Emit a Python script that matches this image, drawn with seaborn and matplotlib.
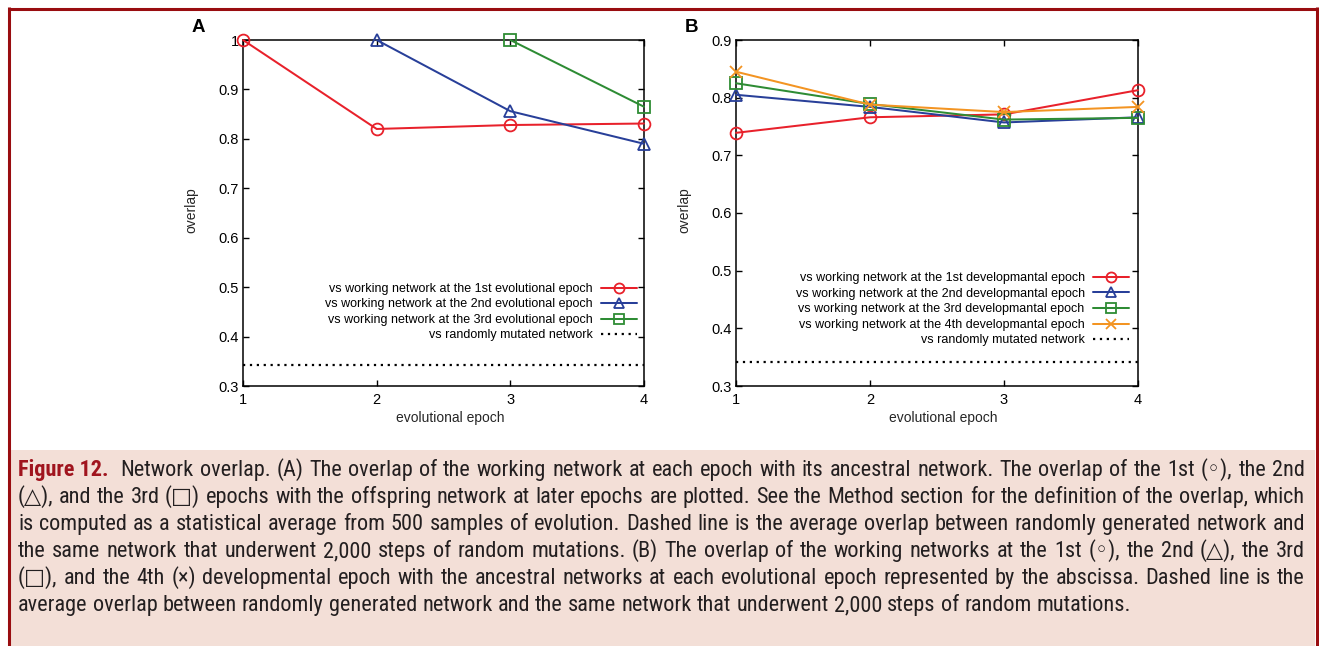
import matplotlib
matplotlib.use("Agg")
import matplotlib.pyplot as plt
import seaborn as sns
from matplotlib import font_manager as fm
from matplotlib.font_manager import FontProperties
from matplotlib.lines import Line2D
from matplotlib.patches import Rectangle

# ---------------------------------------------------------------- data
epochs = [1, 2, 3, 4]

# Panel A: overlap with the working network of an earlier evolutional epoch
a_first_x = [1, 2, 3, 4]
a_first = [1.0, 0.820, 0.828, 0.831]
a_second_x = [2, 3, 4]
a_second = [1.0, 0.856, 0.790]
a_third_x = [3, 4]
a_third = [1.0, 0.865]
a_random = 0.342

# Panel B: overlap of developmental-epoch networks with ancestral networks
b_first = [0.739, 0.766, 0.771, 0.813]
b_second = [0.805, 0.784, 0.757, 0.766]
b_third = [0.825, 0.789, 0.762, 0.765]
b_fourth = [0.845, 0.788, 0.775, 0.784]
b_random = 0.342

a_yticks = [0.3, 0.4, 0.5, 0.6, 0.7, 0.8, 0.9, 1.0]
a_yticklabels = ["0.3", "0.4", "0.5", "0.6", "0.7", "0.8", "0.9", "1"]
b_yticks = [0.3, 0.4, 0.5, 0.6, 0.7, 0.8, 0.9]
b_yticklabels = ["0.3", "0.4", "0.5", "0.6", "0.7", "0.8", "0.9"]
xticklabels = ["1", "2", "3", "4"]

a_labels = [
    "vs working network at the 1st evolutional epoch",
    "vs working network at the 2nd evolutional epoch",
    "vs working network at the 3rd evolutional epoch",
    "vs randomly mutated network",
]
b_labels = [
    "vs working network at the 1st developmantal epoch",
    "vs working network at the 2nd developmantal epoch",
    "vs working network at the 3rd developmantal epoch",
    "vs working network at the 4th developmantal epoch",
    "vs randomly mutated network",
]
x_label = "evolutional epoch"
y_label = "overlap"

cap_head = "Figure 12."
cap_lines = [
    "Network overlap. (A) The overlap of the working network at each epoch with its ancestral network. The overlap of the 1st (\u25e6), the 2nd",
    "(\u25b3), and the 3rd (\u25a1) epochs with the offspring network at later epochs are plotted. See the Method section for the definition of the overlap, which",
    "is computed as a statistical average from 500 samples of evolution. Dashed line is the average overlap between randomly generated network and",
    "the same network that underwent 2,000 steps of random mutations. (B) The overlap of the working networks at the 1st (\u25e6), the 2nd (\u25b3), the 3rd",
    "(\u25a1), and the 4th (\u00d7) developmental epoch with the ancestral networks at each evolutional epoch represented by the abscissa. Dashed line is the",
    "average overlap between randomly generated network and the same network that underwent 2,000 steps of random mutations.",
]

# ---------------------------------------------------------------- style
RED, BLUE, GREEN, ORANGE = "#e8212b", "#283f99", "#2e8c34", "#f39422"
FRAME = "#990d10"
PINK = "#f3dfd7"
HEAD = "#a0141e"
INK = "#231f20"

sns.set_style("ticks")
plt.rcParams["font.family"] = ["Liberation Sans", "DejaVu Sans"]
plt.rcParams["axes.linewidth"] = 1.1
plt.rcParams["text.color"] = "black"


def installed(name):
    try:
        fm.findfont(FontProperties(family=name), fallback_to_default=False)
        return True
    except ValueError:
        return False


cap_family = next(
    (f for f in ["Liberation Sans Narrow", "Roboto Condensed", "Liberation Sans"] if installed(f)),
    "DejaVu Sans",
)

W, H = 1319, 646
fig = plt.figure(figsize=(W / 100, H / 100), dpi=100)
fig.patch.set_facecolor("white")


def fx(px):
    return px / W


def fy(py):
    return 1 - py / H


def axes_rect(left, top, right, bottom):
    return [fx(left), fy(bottom), fx(right) - fx(left), fy(top) - fy(bottom)]


# outer frame and caption panel
fig.add_artist(Rectangle((fx(10), 0), fx(1315) - fx(10), fy(450), transform=fig.transFigure,
                         facecolor=PINK, edgecolor="none", zorder=0))
for xs, ys in [([8, 1318], [8.5, 8.5]), ([9, 9], [7, 660]), ([1316.5, 1316.5], [7, 660])]:
    fig.add_artist(Line2D([fx(v) for v in xs], [fy(v) for v in ys], transform=fig.transFigure,
                          color=FRAME, lw=2.2, solid_capstyle="butt", zorder=1))

axA = fig.add_axes(axes_rect(243, 40, 644, 386))
axB = fig.add_axes(axes_rect(736, 40, 1138, 386))

LW, MEW = 1.45, 1.3


def series(ax, xs, ys, color, marker, label, ms=8.5):
    sns.lineplot(x=xs, y=ys, ax=ax, color=color, marker=marker, markersize=ms,
                 markerfacecolor="none", markeredgecolor=color, markeredgewidth=MEW,
                 linewidth=LW, label=label, errorbar=None, clip_on=False, zorder=3)


def random_line(ax, y, label):
    ax.axhline(y, color="black", lw=1.6, linestyle=(0, (1, 2.1)), dash_capstyle="butt",
               label=label, zorder=2)


series(axA, a_first_x, a_first, RED, "o", a_labels[0])
series(axA, a_second_x, a_second, BLUE, "^", a_labels[1], ms=9)
series(axA, a_third_x, a_third, GREEN, "s", a_labels[2], ms=8)
random_line(axA, a_random, a_labels[3])

series(axB, epochs, b_first, RED, "o", b_labels[0])
series(axB, epochs, b_second, BLUE, "^", b_labels[1], ms=9)
series(axB, epochs, b_third, GREEN, "s", b_labels[2], ms=8)
series(axB, epochs, b_fourth, ORANGE, "x", b_labels[3], ms=9)
random_line(axB, b_random, b_labels[4])

for ax, yt, ytl, ymax in [(axA, a_yticks, a_yticklabels, 1.0), (axB, b_yticks, b_yticklabels, 0.9)]:
    ax.set_xlim(1, 4)
    ax.set_ylim(0.3, ymax)
    ax.set_xticks(epochs)
    ax.set_xticklabels(xticklabels)
    ax.set_yticks(yt)
    ax.set_yticklabels(ytl)
    ax.tick_params(direction="in", length=4, width=1.0, top=True, right=True,
                   labelsize=10.5, colors="black")
    ax.tick_params(axis="x", pad=5)
    ax.tick_params(axis="y", pad=3)
    for sp in ax.spines.values():
        sp.set_visible(True)
        sp.set_color("black")
        sp.set_linewidth(1.1)
    ax.set_xlabel(x_label, fontsize=10, va="center")
    ax.set_ylabel(y_label, fontsize=10, va="center")
    ax.xaxis.set_label_coords(0.516, -0.093)
    ax.yaxis.set_label_coords(-0.128, 0.509)
    ax.set_facecolor("white")


def place_legend(ax, right_px, top_px, spacing):
    handles, labels = ax.get_legend_handles_labels()
    leg = ax.legend(handles, labels, loc="upper right", bbox_to_anchor=(fx(right_px), fy(top_px)),
                    bbox_transform=fig.transFigure, markerfirst=False, frameon=False,
                    borderpad=0, borderaxespad=0, fontsize=9, handlelength=2.9,
                    handletextpad=0.65, labelspacing=spacing, numpoints=1)
    for h in leg.legend_handles:
        if h.get_marker() not in (None, "None", ""):
            h.set_markersize(h.get_markersize() * 0.85)


place_legend(axA, 637, 283, 0.28)
place_legend(axB, 1129, 272, 0.29)

fig.text(fx(198), fy(28), "A", fontsize=13.5, fontweight="bold", ha="center", va="center")
fig.text(fx(691), fy(28), "B", fontsize=13.5, fontweight="bold", ha="center", va="center")

# ---------------------------------------------------------------- justified caption
renderer = fig.canvas.get_renderer()
CAP_LEFT, CAP_RIGHT = 18, 1305
CAP_BASE, CAP_STEP = 476, 27
avail = CAP_RIGHT - CAP_LEFT


def text_width(s, fp):
    t = fig.text(0, 0, s, fontproperties=fp)
    w = t.get_window_extent(renderer).width
    t.remove()
    return w


def make_fonts(size):
    body = FontProperties(family=[cap_family, "DejaVu Sans"], size=size)
    head = FontProperties(family=[cap_family, "DejaVu Sans"], size=size, weight="bold")
    return body, head


def tokens_for(i, body, head):
    toks = []
    if i == 0:
        toks.append((cap_head, head, HEAD, 2.0))
    for w in cap_lines[i].split(" "):
        toks.append((w, body, INK, 1.0))
    return toks


def natural_width(toks, space):
    words = sum(text_width(t[0], t[1]) for t in toks)
    gaps = sum(t[3] for t in toks[:-1])
    return words + gaps * space


size = 15.0
body, head = make_fonts(size)
space = text_width("a a", body) - text_width("aa", body)
widest = max(natural_width(tokens_for(i, body, head), space) for i in range(len(cap_lines)))
size = min(17.0, size * avail * 0.99 / widest)
body, head = make_fonts(size)
space = text_width("a a", body) - text_width("aa", body)

for i in range(len(cap_lines)):
    toks = tokens_for(i, body, head)
    widths = [text_width(t[0], t[1]) for t in toks]
    weights = sum(t[3] for t in toks[:-1])
    last = i == len(cap_lines) - 1
    unit = space if last else (avail - sum(widths)) / weights
    x = CAP_LEFT
    y = CAP_BASE + CAP_STEP * i
    for (word, fp, color, wgt), w in zip(toks, widths):
        fig.text(fx(x), fy(y), word, fontproperties=fp, color=color, ha="left", va="baseline")
        x += w + wgt * unit

fig.savefig("out.png", dpi=100, facecolor="white")
